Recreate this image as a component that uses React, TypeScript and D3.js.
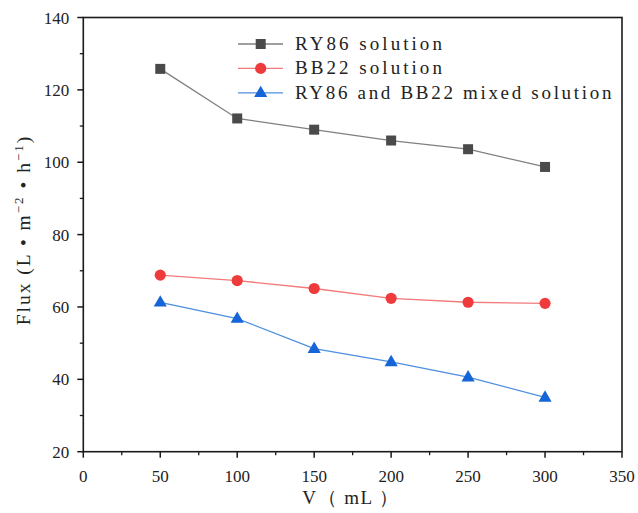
import React from "react";
import * as d3 from "d3";

const volumes = [50, 100, 150, 200, 250, 300];
const ry86 = [125.8, 112.1, 109.0, 106.0, 103.6, 98.7];
const bb22 = [68.8, 67.3, 65.1, 62.4, 61.3, 61.0];
const mixed = [61.3, 56.8, 48.5, 44.8, 40.6, 35.0];
const xTicks = [0, 50, 100, 150, 200, 250, 300, 350];
const yTicks = [20, 40, 60, 80, 100, 120, 140];
const seriesNames = ["RY86 solution", "BB22 solution", "RY86 and BB22 mixed solution"];

const W = 638, H = 513;
const L = 83.3, R = 622, T = 17.5, B = 451.7;

export default function App() {
  const x = d3.scaleLinear().domain([0, 350]).range([L, R]);
  const y = d3.scaleLinear().domain([20, 140]).range([B, T]);
  const line = d3.line<number>().x((_, i) => x(volumes[i])).y((d) => y(d));

  const series = [
    { name: seriesNames[0], data: ry86, lineColor: "#7f7f7f", fill: "#4a4a4a", shape: "square" },
    { name: seriesNames[1], data: bb22, lineColor: "#f27a7a", fill: "#ef3b3b", shape: "circle" },
    { name: seriesNames[2], data: mixed, lineColor: "#4d8fe0", fill: "#1565d8", shape: "triangle" },
  ];

  const marker = (shape: string, cx: number, cy: number, fill: string, key?: any) => {
    if (shape === "square") return <rect key={key} x={cx - 5} y={cy - 5} width={10} height={10} fill={fill} />;
    if (shape === "circle") return <circle key={key} cx={cx} cy={cy} r={5.6} fill={fill} />;
    const p = d3.symbol().type(d3.symbolTriangle).size(75)();
    return <path key={key} d={p as string} transform={`translate(${cx},${cy + 0.5})`} fill={fill} />;
  };

  const minorX = d3.range(25, 350, 50);
  const minorY = d3.range(30, 140, 20);
  const font = "Liberation Serif, DejaVu Serif, serif";

  return (
    <svg width={W} height={H} style={{ position: "absolute", left: 0, top: 0, background: "#fff" }}>
      <rect x={0} y={0} width={W} height={H} fill="#fff" />
      {series.map((s, si) => (
        <g key={si}>
          <path d={line(s.data) as string} fill="none" stroke={s.lineColor} strokeWidth={1.3} />
          {s.data.map((v, i) => marker(s.shape, x(volumes[i]), y(v), s.fill, i))}
        </g>
      ))}
      <rect x={L} y={T} width={R - L} height={B - T} fill="none" stroke="#1a1a1a" strokeWidth={1.6} />
      {xTicks.map((t) => (
        <g key={"xt" + t}>
          <line x1={x(t)} x2={x(t)} y1={B} y2={B + 6} stroke="#1a1a1a" strokeWidth={1.5} />
          <text x={x(t)} y={B + 30} textAnchor="middle" fontFamily={font} fontSize={17} fill="#222">{t}</text>
        </g>
      ))}
      {minorX.map((t) => (
        <line key={"xm" + t} x1={x(t)} x2={x(t)} y1={B} y2={B + 3.5} stroke="#1a1a1a" strokeWidth={1.3} />
      ))}
      {yTicks.map((t) => (
        <g key={"yt" + t}>
          <line x1={L - 6} x2={L} y1={y(t)} y2={y(t)} stroke="#1a1a1a" strokeWidth={1.5} />
          <text x={L - 14} y={y(t) + 6} textAnchor="end" fontFamily={font} fontSize={17} fill="#222">{t}</text>
        </g>
      ))}
      {minorY.map((t) => (
        <line key={"ym" + t} x1={L - 3.5} x2={L} y1={y(t)} y2={y(t)} stroke="#1a1a1a" strokeWidth={1.3} />
      ))}
      <text x={351} y={504} textAnchor="middle" fontFamily={font} fontSize={19} fill="#222" letterSpacing={1.5}>
        V（ mL ）
      </text>
      <text transform={`translate(30,${230}) rotate(-90)`} textAnchor="middle" fontFamily={font} fontSize={19.5} fill="#222" letterSpacing={2}>
        <tspan>Flux (L • m</tspan>
        <tspan dy={-7} fontSize={13}>−2</tspan>
        <tspan dy={7}> • h</tspan>
        <tspan dy={-7} fontSize={13}>−1</tspan>
        <tspan dy={7}>)</tspan>
      </text>
      {series.map((s, i) => {
        const cy = 44 + i * 24.4;
        return (
          <g key={"lg" + i}>
            <line x1={238} x2={283} y1={cy} y2={cy} stroke={s.lineColor} strokeWidth={1.3} />
            {marker(s.shape, 260.7, cy, s.fill)}
            <text x={295} y={cy + 6} fontFamily={font} fontSize={19} fill="#222" textLength={s.name.length * 11.3} lengthAdjust="spacing">
              {s.name}
            </text>
          </g>
        );
      })}
    </svg>
  );
}
